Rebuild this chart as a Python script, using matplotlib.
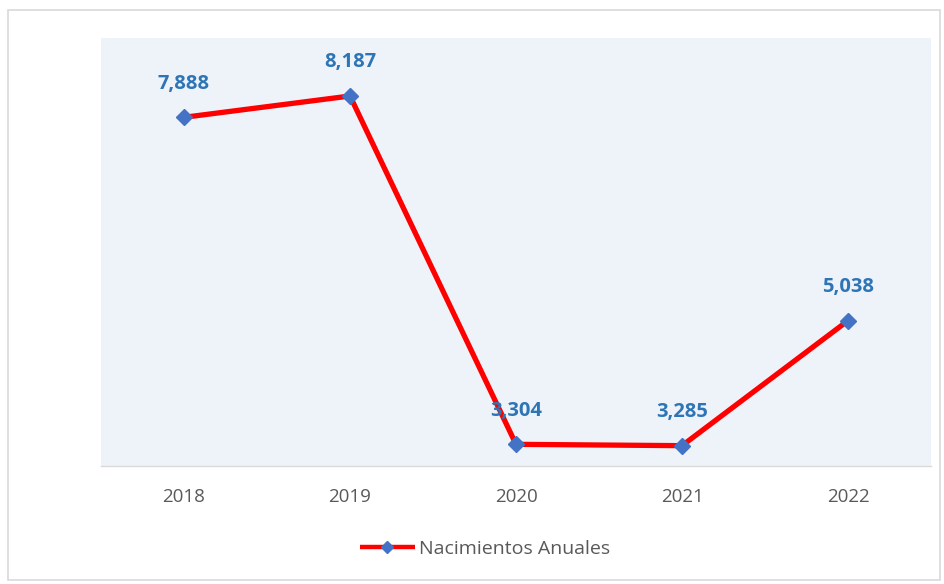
import matplotlib
matplotlib.use("Agg")
import matplotlib.pyplot as plt
from matplotlib.patches import Rectangle

years = ["2018", "2019", "2020", "2021", "2022"]
births = [7888, 8187, 3304, 3285, 5038]
series_name = "Nacimientos Anuales"

plt.rcParams['font.family'] = ['Open Sans', 'DejaVu Sans']

W, H = 945, 584
fig = plt.figure(figsize=(W / 100, H / 100), dpi=100)
fig.patch.set_facecolor("white")

# outer border
fig.patches.append(Rectangle((8 / W, 4 / H), (940 - 8) / W, (578 - 8) / H,
                             transform=fig.transFigure, fill=False,
                             edgecolor="#D9D9D9", linewidth=1.2))

ax = fig.add_axes([101 / W, 1 - 466 / H, 830 / W, (466 - 38) / H])
ax.set_facecolor("#EEF3FA")
x = list(range(len(years)))
line, = ax.plot(x, births, color="#FF0000", linewidth=3.8, marker="D",
                markersize=8, markerfacecolor="#4472C4", markeredgecolor="#4472C4",
                label=series_name, solid_capstyle="butt", zorder=3)
ax.set_xlim(-0.5, len(years) - 0.5)
ax.set_ylim(3000, 9000)
ax.set_yticks([])
ax.set_xticks(x)
ax.set_xticklabels(years, fontsize=13.5, color="#595959")
ax.tick_params(axis="x", length=0, pad=16)
for s in ["top", "right", "left"]:
    ax.spines[s].set_visible(False)
ax.spines["bottom"].set_color("#D9D9D9")
ax.spines["bottom"].set_linewidth(1)

for xi, v in zip(x, births):
    ax.annotate(f"{v:,}", (xi, v), xytext=(0, 17), textcoords="offset points",
                ha="center", va="bottom", fontsize=14.5, fontweight="bold",
                color="#2E75B6", zorder=4)

leg = fig.legend(handles=[line], labels=[series_name], loc="center",
                 bbox_to_anchor=(485 / W, 1 - 549 / H), frameon=False,
                 fontsize=14, handlelength=2.85, handletextpad=0.2,
                 labelcolor="#595959")
for h in leg.legend_handles:
    h.set_markersize(6)
    h.set_linewidth(3.2)

fig.savefig("out.png", dpi=100, facecolor="white")
